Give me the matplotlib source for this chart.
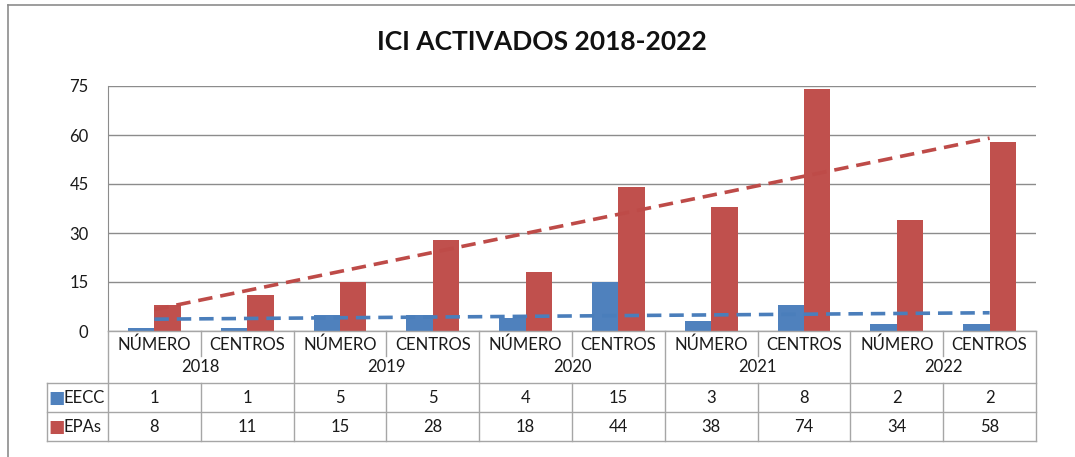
import numpy as np
import matplotlib.pyplot as plt
from matplotlib.lines import Line2D

# Data
years = ['2018', '2019', '2020', '2021', '2022']
subcats = ['NÚMERO', 'CENTROS']
series_names = ['EECC', 'EPAs']
eecc = [1, 1, 5, 5, 4, 15, 3, 8, 2, 2]
epas = [8, 11, 15, 28, 18, 44, 38, 74, 34, 58]

# Styles
blue = '#4F81BD'
red = '#C0504D'
grid_c = '#8C8C8C'
table_c = '#A6A6A6'
plt.rcParams['font.family'] = ['Lato', 'DejaVu Sans']

W, H = 1075, 457
fig = plt.figure(figsize=(W / 100, H / 100), dpi=100)

# pixel layout
x_left, x_right = 108, 1036
y_top, y_zero = 86, 331
leg_left = 47
n = len(eecc)
x = np.arange(n)
cat_w = (x_right - x_left) / n

ax = fig.add_axes([x_left / W, 1 - y_zero / H, (x_right - x_left) / W, (y_zero - y_top) / H])
bw = 0.285
ax.bar(x - bw / 2, eecc, bw, color=blue, zorder=3)
ax.bar(x + bw / 2, epas, bw, color=red, zorder=3)

# linear trendlines
for vals, c in [(eecc, '#4A7EBB'), (epas, '#BE4B48')]:
    k, b = np.polyfit(x + 1, vals, 1)
    ax.plot([x[0], x[-1]], [k * 1 + b, k * n + b], color=c, lw=2.6,
            dashes=(4.0, 2.2), zorder=4)

ax.set_xlim(-0.5, n - 0.5)
ax.set_ylim(0, 75)
ax.set_yticks(np.arange(0, 76, 15))
ax.set_xticks([])
ax.yaxis.grid(True, color=grid_c, lw=1)
ax.set_axisbelow(True)
for s in ['top', 'right', 'bottom']:
    ax.spines[s].set_visible(False)
ax.spines['left'].set_color(grid_c)
ax.tick_params(axis='y', length=0, pad=14, labelsize=12, colors='#1a1a1a')

# data table below the plot
t_top, t_cat, t_year, t_r1, t_r2 = 331, 356, 383, 412, 441
tax = fig.add_axes([leg_left / W, 1 - t_r2 / H, (x_right - leg_left) / W, (t_r2 - t_top) / H])
tax.set_xlim(-0.5 - (x_left - leg_left) / cat_w, n - 0.5)
tax.set_ylim(t_r2, t_top)
tax.axis('off')
xl = -0.5 - (x_left - leg_left) / cat_w

def hl(y, x0, x1):
    tax.add_line(Line2D([x0, x1], [y, y], color=table_c, lw=1, clip_on=False))

def vl(xx, y0, y1):
    tax.add_line(Line2D([xx, xx], [y0, y1], color=table_c, lw=1, clip_on=False))

hl(t_top, -0.5, n - 0.5)
hl(t_year, xl, n - 0.5)
hl(t_r1, xl, n - 0.5)
hl(t_r2, xl, n - 0.5)
vl(xl, t_year, t_r2)
vl(-0.5, t_top, t_r2)
for i in range(1, n + 1):
    xx = i - 0.5
    if i % 2 == 0:
        vl(xx, t_top, t_r2)
    else:
        vl(xx, t_top, t_cat)
        vl(xx, t_year, t_r2)

fs = 12
for i in range(n):
    tax.text(i, 345, subcats[i % 2], ha='center', va='center', fontsize=fs, color='#1a1a1a')
for j, yr in enumerate(years):
    tax.text(2 * j + 0.5, 367, yr, ha='center', va='center', fontsize=fs, color='#1a1a1a')

for vals, name, c, yc in [(eecc, series_names[0], blue, 398), (epas, series_names[1], red, 427)]:
    for i, v in enumerate(vals):
        tax.text(i, yc, str(v), ha='center', va='center', fontsize=fs, color='#1a1a1a')
    tax.text(xl + 0.1, yc, '■', ha='center', va='center', fontsize=12.5, color=c,
             family=['DejaVu Sans'])
    tax.text(xl + 0.175, yc, name, ha='left', va='center', fontsize=fs, color='#1a1a1a')

# title
fig.text(542 / W, 1 - 42 / H, 'ICI ACTIVADOS 2018-2022', ha='center', va='center',
         fontsize=19, fontweight='bold', color='#111111')

# outer chart frame
fig.add_artist(Line2D([8 / W, 1], [1 - 5 / H, 1 - 5 / H], color='#8C8C8C', lw=1.2))
fig.add_artist(Line2D([8 / W, 8 / W], [0, 1 - 5 / H], color='#8C8C8C', lw=1.2))

fig.savefig('out.png', dpi=100, facecolor='white')
